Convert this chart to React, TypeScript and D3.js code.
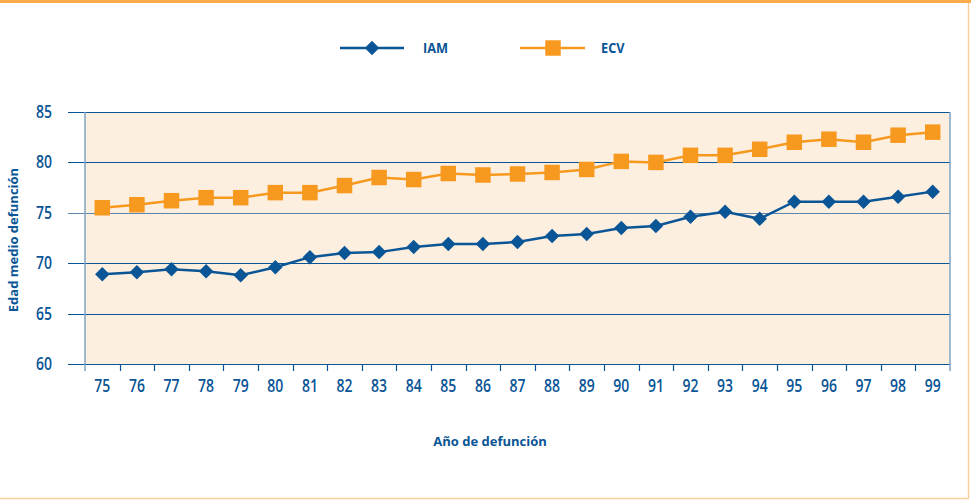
import React, { useEffect, useRef } from "react";
import * as d3 from "d3";

const years = ["75", "76", "77", "78", "79", "80", "81", "82", "83", "84", "85", "86", "87", "88", "89", "90", "91", "92", "93", "94", "95", "96", "97", "98", "99"];
const iam = [68.9, 69.1, 69.4, 69.2, 68.8, 69.6, 70.6, 71.0, 71.1, 71.6, 71.9, 71.9, 72.1, 72.7, 72.9, 73.5, 73.7, 74.6, 75.1, 74.4, 76.1, 76.1, 76.1, 76.6, 77.1];
const ecv = [75.5, 75.8, 76.2, 76.5, 76.5, 77.0, 77.0, 77.7, 78.5, 78.3, 78.9, 78.75, 78.85, 79.0, 79.3, 80.1, 80.0, 80.7, 80.7, 81.3, 82.0, 82.3, 82.0, 82.7, 83.0];
const yTicks = [60, 65, 70, 75, 80, 85];

const BLUE = "#0a5596";
const ORANGE = "#f7991f";
const FONT = "'Open Sans', sans-serif";

const App: React.FC = () => {
  const svgRef = useRef<SVGSVGElement>(null);

  useEffect(() => {
    if (!svgRef.current) return;
    document.body.style.margin = "0";

    const svg = d3.select(svgRef.current);
    svg.selectAll("*").remove();

    const W = 971;
    const H = 500;
    const plot = { left: 85, right: 950, top: 112, bottom: 364 };

    // page frame
    svg.append("rect").attr("x", 0).attr("y", 0).attr("width", W).attr("height", H).attr("fill", "#fff");
    svg.append("rect").attr("x", 0).attr("y", 0).attr("width", W).attr("height", 3).attr("fill", "#fbab4c");
    svg.append("line").attr("x1", 968.5).attr("x2", 968.5).attr("y1", 3).attr("y2", 498.5)
      .attr("stroke", "#f9cf9c").attr("stroke-width", 1.5);
    svg.append("line").attr("x1", 0).attr("x2", 969).attr("y1", 498.5).attr("y2", 498.5)
      .attr("stroke", "#f9cf9c").attr("stroke-width", 1.5);

    const x = d3.scaleBand().domain(years).range([plot.left, plot.right]);
    const y = d3.scaleLinear().domain([60, 85]).range([plot.bottom, plot.top]);
    const cx = (d: string) => (x(d) || 0) + x.bandwidth() / 2;

    // plot background
    svg.append("rect")
      .attr("x", plot.left).attr("y", plot.top)
      .attr("width", plot.right - plot.left).attr("height", plot.bottom - plot.top)
      .attr("fill", "#fdefe0");

    // horizontal gridlines / y ticks
    svg.append("g").selectAll("line").data(yTicks).enter().append("line")
      .attr("x1", 68).attr("x2", plot.right)
      .attr("y1", (d) => Math.round(y(d)) + 0.5).attr("y2", (d) => Math.round(y(d)) + 0.5)
      .attr("stroke", (d) => (d === 75 ? "#5d87ad" : BLUE)).attr("stroke-width", 1.2);

    // plot side borders
    svg.append("line").attr("x1", plot.left).attr("x2", plot.left).attr("y1", plot.top).attr("y2", plot.bottom + 7)
      .attr("stroke", "#7fa3c4").attr("stroke-width", 1.5);
    svg.append("line").attr("x1", plot.right).attr("x2", plot.right).attr("y1", plot.top).attr("y2", plot.bottom + 7)
      .attr("stroke", "#7fa3c4").attr("stroke-width", 1.5);

    // x ticks
    svg.append("g").selectAll("line").data(years.slice(1)).enter().append("line")
      .attr("x1", (d) => Math.round(x(d) || 0) + 0.5).attr("x2", (d) => Math.round(x(d) || 0) + 0.5)
      .attr("y1", plot.bottom).attr("y2", plot.bottom + 7)
      .attr("stroke", BLUE).attr("stroke-width", 1.2);

    // y tick labels (condensed)
    svg.append("g").selectAll("text").data(yTicks).enter().append("text")
      .attr("transform", (d) => `translate(52,${y(d) + 6}) scale(0.8,1)`)
      .attr("text-anchor", "end")
      .attr("fill", BLUE).style("font-family", FONT).style("font-size", "17.5px").style("font-weight", 600)
      .text((d) => d);

    // x tick labels (condensed)
    svg.append("g").selectAll("text").data(years).enter().append("text")
      .attr("transform", (d) => `translate(${cx(d)},392) scale(0.8,1)`)
      .attr("text-anchor", "middle")
      .attr("fill", BLUE).style("font-family", FONT).style("font-size", "17.5px").style("font-weight", 600)
      .text((d) => d);

    // axis titles
    svg.append("text")
      .attr("transform", "translate(18,240) rotate(-90)")
      .attr("text-anchor", "middle")
      .attr("fill", BLUE).style("font-family", FONT)
      .style("font-size", "13px").style("font-weight", "bold")
      .text("Edad medio defunción");
    svg.append("text")
      .attr("x", 490).attr("y", 446)
      .attr("text-anchor", "middle")
      .attr("fill", BLUE).style("font-family", FONT)
      .style("font-size", "13px").style("font-weight", "bold")
      .text("Año de defunción");

    const diamond = d3.symbol().type(d3.symbolSquare).size(105);
    const square = d3.symbol().type(d3.symbolSquare).size(240);

    // series lines
    const line = d3.line<number>().x((_, i) => cx(years[i])).y((d) => y(d));
    svg.append("path").datum(ecv).attr("d", line).attr("fill", "none")
      .attr("stroke", ORANGE).attr("stroke-width", 2.5);
    svg.append("path").datum(iam).attr("d", line).attr("fill", "none")
      .attr("stroke", BLUE).attr("stroke-width", 2.5);

    svg.append("g").selectAll("path").data(ecv).enter().append("path")
      .attr("d", square)
      .attr("transform", (d, i) => `translate(${cx(years[i])},${y(d)})`)
      .attr("fill", ORANGE);
    svg.append("g").selectAll("path").data(iam).enter().append("path")
      .attr("d", diamond)
      .attr("transform", (d, i) => `translate(${cx(years[i])},${y(d)}) rotate(45)`)
      .attr("fill", BLUE);

    // legend
    const legY = 48;
    svg.append("line").attr("x1", 340).attr("x2", 404).attr("y1", legY).attr("y2", legY)
      .attr("stroke", BLUE).attr("stroke-width", 2.5);
    svg.append("path").attr("d", diamond).attr("transform", `translate(372,${legY}) rotate(45)`).attr("fill", BLUE);
    svg.append("text").attr("transform", `translate(423,${legY + 5}) scale(0.85,1)`)
      .attr("fill", BLUE).style("font-family", FONT).style("font-size", "15px").style("font-weight", "bold")
      .text("IAM");
    svg.append("line").attr("x1", 520).attr("x2", 585).attr("y1", legY).attr("y2", legY)
      .attr("stroke", ORANGE).attr("stroke-width", 2.5);
    svg.append("path").attr("d", square).attr("transform", `translate(553,${legY})`).attr("fill", ORANGE);
    svg.append("text").attr("transform", `translate(601,${legY + 5}) scale(0.85,1)`)
      .attr("fill", BLUE).style("font-family", FONT).style("font-size", "15px").style("font-weight", "bold")
      .text("ECV");
  }, []);

  return (
    <div>
      <svg ref={svgRef} width={971} height={500} style={{ display: "block" }}></svg>
    </div>
  );
};

export default App;
